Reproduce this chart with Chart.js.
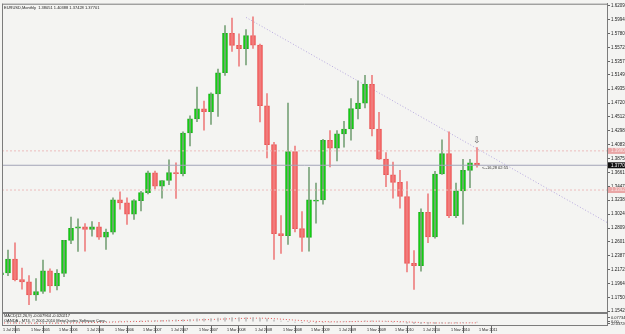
<!DOCTYPE html>
<html>
<head>
<meta charset="utf-8">
<script src="https://cdn.jsdelivr.net/npm/chart.js@4.4.1/dist/chart.umd.min.js"></script>
<style>
  html, body { margin: 0; padding: 0; background: #f4f4f2; }
  canvas { display: block; }
</style>
</head>
<body>
<canvas id="chart" width="625" height="334"></canvas>
<script>
// ---------- DATA ----------
const months = [
  "Jul 2005", "Aug 2005", "Sep 2005", "Oct 2005", "Nov 2005", "Dec 2005",
  "Jan 2006", "Feb 2006", "Mar 2006", "Apr 2006", "May 2006", "Jun 2006",
  "Jul 2006", "Aug 2006", "Sep 2006", "Oct 2006", "Nov 2006", "Dec 2006",
  "Jan 2007", "Feb 2007", "Mar 2007", "Apr 2007", "May 2007", "Jun 2007",
  "Jul 2007", "Aug 2007", "Sep 2007", "Oct 2007", "Nov 2007", "Dec 2007",
  "Jan 2008", "Feb 2008", "Mar 2008", "Apr 2008", "May 2008", "Jun 2008",
  "Jul 2008", "Aug 2008", "Sep 2008", "Oct 2008", "Nov 2008", "Dec 2008",
  "Jan 2009", "Feb 2009", "Mar 2009", "Apr 2009", "May 2009", "Jun 2009",
  "Jul 2009", "Aug 2009", "Sep 2009", "Oct 2009", "Nov 2009", "Dec 2009",
  "Jan 2010", "Feb 2010", "Mar 2010", "Apr 2010", "May 2010", "Jun 2010",
  "Jul 2010", "Aug 2010", "Sep 2010", "Oct 2010", "Nov 2010", "Dec 2010",
  "Jan 2011", "Feb 2011", "Mar 2011",
];

const openP = [
  1.2099, 1.2125, 1.2337, 1.2023, 1.1989, 1.1791,
  1.1842, 1.2156, 1.1925, 1.2118, 1.2623, 1.2808,
  1.2830, 1.2790, 1.2830, 1.2673, 1.2749, 1.3243,
  1.3196, 1.3024, 1.3230, 1.3353, 1.3654, 1.3450,
  1.3537, 1.3660, 1.3641, 1.4263, 1.4479, 1.4632,
  1.4590, 1.4860, 1.5184, 1.5786, 1.5602, 1.5550,
  1.5753, 1.5607, 1.4680, 1.4085, 1.2727, 1.2693,
  1.3978, 1.2802, 1.2668, 1.3220, 1.3240, 1.4152,
  1.4031, 1.4249, 1.4324, 1.4635, 1.4720, 1.5006,
  1.4324, 1.3865, 1.3626, 1.3508, 1.3293, 1.2272,
  1.2236, 1.3050, 1.2677, 1.3637, 1.3947, 1.3001,
  1.3378, 1.3692, 1.38051,
];

const highP = [
  1.2264, 1.2475, 1.2586, 1.2199, 1.2083, 1.2040,
  1.2323, 1.2188, 1.2176, 1.2625, 1.2979, 1.2950,
  1.2880, 1.2911, 1.2900, 1.2794, 1.3271, 1.3366,
  1.3271, 1.3246, 1.3372, 1.3681, 1.3682, 1.3542,
  1.3852, 1.3809, 1.4282, 1.4527, 1.4966, 1.4750,
  1.4878, 1.5241, 1.5904, 1.6018, 1.5777, 1.5844,
  1.6038, 1.5622, 1.4866, 1.4120, 1.3000, 1.4719,
  1.4065, 1.3063, 1.3737, 1.3497, 1.4166, 1.4300,
  1.4301, 1.4442, 1.4788, 1.5062, 1.5145, 1.5143,
  1.4579, 1.3966, 1.3819, 1.3692, 1.3520, 1.2466,
  1.3103, 1.3334, 1.3677, 1.4158, 1.4283, 1.3500,
  1.3862, 1.3862, 1.40388,
];

const lowP = [
  1.1867, 1.2084, 1.2005, 1.1878, 1.1640, 1.1707,
  1.1811, 1.1828, 1.1864, 1.2067, 1.2573, 1.2455,
  1.2456, 1.2686, 1.2637, 1.2483, 1.2719, 1.3098,
  1.2866, 1.2942, 1.3071, 1.3331, 1.3410, 1.3269,
  1.3475, 1.3262, 1.3607, 1.4066, 1.4438, 1.4306,
  1.4396, 1.4516, 1.5143, 1.5510, 1.5284, 1.5303,
  1.5555, 1.4432, 1.3882, 1.2330, 1.2424, 1.2559,
  1.2750, 1.2455, 1.2456, 1.2886, 1.3174, 1.3745,
  1.3836, 1.4048, 1.4155, 1.4480, 1.4645, 1.4218,
  1.3858, 1.3443, 1.3266, 1.3114, 1.2140, 1.1875,
  1.2152, 1.2587, 1.2658, 1.3630, 1.2969, 1.2971,
  1.2871, 1.3427, 1.37428,
];

const closeP = [
  1.2125, 1.2337, 1.2023, 1.1989, 1.1791, 1.1842,
  1.2156, 1.1925, 1.2118, 1.2623, 1.2808, 1.2830,
  1.2790, 1.2830, 1.2673, 1.2749, 1.3243, 1.3196,
  1.3024, 1.3230, 1.3353, 1.3654, 1.3450, 1.3537,
  1.3660, 1.3641, 1.4263, 1.4479, 1.4632, 1.4590,
  1.4860, 1.5184, 1.5786, 1.5602, 1.5550, 1.5753,
  1.5607, 1.4680, 1.4085, 1.2727, 1.2693, 1.3978,
  1.2802, 1.2668, 1.3244, 1.3240, 1.4152, 1.4031,
  1.4249, 1.4324, 1.4635, 1.4720, 1.5006, 1.4324,
  1.3865, 1.3626, 1.3508, 1.3293, 1.2272, 1.2236,
  1.3050, 1.2677, 1.3637, 1.3947, 1.3001, 1.3378,
  1.3692, 1.3806, 1.37701,
];

// MACD(12,26,9): main histogram and signal line (rough reading)
const macdMain = [
  -0.028, -0.026, -0.027, -0.028, -0.030, -0.030,
  -0.027, -0.026, -0.024, -0.018, -0.012, -0.008,
  -0.005, -0.002, 0.001, 0.003, 0.008, 0.011,
  0.012, 0.014, 0.017, 0.022, 0.024, 0.027,
  0.031, 0.033, 0.039, 0.046, 0.052, 0.056,
  0.060, 0.066, 0.073, 0.077, 0.077, 0.077,
  0.076, 0.067, 0.053, 0.029, 0.010, 0.005,
  -0.006, -0.016, -0.019, -0.020, -0.012, -0.006,
  -0.001, 0.004, 0.008, 0.013, 0.019, 0.017,
  0.010, 0.002, -0.004, -0.010, -0.024, -0.034,
  -0.035, -0.039, -0.034, -0.026, -0.025, -0.021,
  -0.015, -0.010, -0.008,
];

const macdSignal = [
  -0.022, -0.023, -0.024, -0.025, -0.026, -0.027,
  -0.027, -0.027, -0.026, -0.025, -0.022, -0.020,
  -0.017, -0.014, -0.011, -0.008, -0.005, -0.002,
  0.001, 0.004, 0.006, 0.009, 0.012, 0.015,
  0.018, 0.021, 0.024, 0.028, 0.033, 0.037,
  0.041, 0.046, 0.051, 0.056, 0.060, 0.063,
  0.066, 0.066, 0.064, 0.057, 0.048, 0.039,
  0.030, 0.021, 0.013, 0.006, 0.003, 0.000,
  -0.001, 0.000, 0.002, 0.004, 0.007, 0.009,
  0.009, 0.008, 0.006, 0.002, -0.003, -0.009,
  -0.014, -0.019, -0.022, -0.023, -0.023, -0.023,
  -0.021, -0.020, -0.020,
];

// tick labels
const xTickLabels = [
  "1 Jul 2005", "1 Nov 2005", "1 Mar 2006", "1 Jul 2006", "1 Nov 2006",
  "1 Mar 2007", "1 Jul 2007", "1 Nov 2007", "1 Mar 2008", "1 Jul 2008",
  "1 Nov 2008", "1 Mar 2009", "1 Jul 2009", "1 Nov 2009", "1 Mar 2010",
  "1 Jul 2010", "1 Nov 2010", "1 Mar 2011",
];
const priceTicks = [
  1.62090, 1.59949, 1.57808, 1.55720, 1.53579, 1.51499, 1.49350, 1.47209,
  1.45120, 1.42980, 1.40839, 1.38750, 1.36610, 1.34470, 1.32380, 1.30240,
  1.28099, 1.26010, 1.23870, 1.21720, 1.19640, 1.17500, 1.15420,
];
const macdTicks = [0.07734, 0, -0.0372];
const macdTickLabels = ["0.07734", "0.00", "-0.03720"];

// lines drawn on the chart
const bidLevel = 1.37701;
const userLevels = [1.3990, 1.3392];
const userLevelLabels = ["1.39900", "1.33920"];
const trendX = [35, 86.6];
const trendY = [1.6030, 1.2895];

const titleText = "EURUSD,Monthly  1.38051 1.40388 1.37428 1.37701";
const macdText = "MACD(12,26,9) -0.007964 -0.020217";
const brokerText = "OANDA - MT4, \u00a9 2001-2010 MetaQuotes Software Corp.";
const timerText = "<--16,28 02:55";

// ---------- HELPERS ----------
const xMin = 1 / 7;
const xMax = xMin + 605 / 7;
const xTickIndex = xTickLabels.map((l) => months.indexOf(l.slice(2)));

const BULL_FILL = "#0ad40a";
const BULL_EDGE = "#19b019";
const BULL_WICK = "#7aa47a";
const BEAR_FILL = "#f66565";
const BEAR_EDGE = "#e85353";
const BEAR_WICK = "#ef8080";
const FONT = "Liberation Sans";

function isBull(i) {
  return closeP[i] >= openP[i];
}

function levelLine(value) {
  return [
    { x: xMin, y: value },
    { x: xMax, y: value },
  ];
}

// ---------- PLUGIN: background, frame, texts ----------
const mtDecor = {
  id: "mtDecor",
  beforeDraw(chart) {
    const ctx = chart.ctx;
    ctx.save();
    ctx.fillStyle = "#f4f4f2";
    ctx.fillRect(0, 0, chart.width, chart.height);
    ctx.restore();
  },
  afterDraw(chart) {
    const ctx = chart.ctx;
    const a = chart.chartArea;
    const y = chart.scales.y;
    const x = chart.scales.x;
    ctx.save();

    // frame
    ctx.strokeStyle = "#7c7c7c";
    ctx.lineWidth = 1;
    ctx.beginPath();
    ctx.moveTo(a.left + 0.5, a.top);
    ctx.lineTo(a.left + 0.5, a.bottom);
    ctx.moveTo(a.left, a.top + 0.5);
    ctx.lineTo(a.right, a.top + 0.5);
    ctx.stroke();
    ctx.lineWidth = 2;
    ctx.beginPath();
    ctx.moveTo(a.left, y.bottom);
    ctx.lineTo(a.right, y.bottom);
    ctx.stroke();

    // texts top-left and in the MACD window
    ctx.fillStyle = "#1a1a1a";
    ctx.textBaseline = "top";
    ctx.textAlign = "left";
    ctx.font = "4px " + FONT;
    ctx.fillText(titleText, a.left + 2, a.top + 2);
    ctx.fillText(macdText, a.left + 2, y.bottom + 1);
    ctx.fillText(brokerText, a.left + 2, y.bottom + 6);

    // price boxes on the axis
    function box(value, text, fill, color) {
      const py = y.getPixelForValue(value);
      ctx.fillStyle = fill;
      ctx.fillRect(a.right + 1, py - 3, chart.width - a.right, 6);
      ctx.fillStyle = color;
      ctx.textBaseline = "middle";
      ctx.font = "4.5px " + FONT;
      ctx.fillText(text, a.right + 4, py);
    }
    userLevels.forEach((v, i) => box(v, userLevelLabels[i], "#e9a5a5", "#fbe6e6"));
    box(bidLevel, bidLevel.toFixed(5), "#111111", "#ffffff");

    // arrow above the last bar and time left
    const last = months.length - 1;
    const lx = x.getPixelForValue(last);
    ctx.fillStyle = "#666666";
    ctx.textAlign = "center";
    ctx.textBaseline = "bottom";
    ctx.font = "9px DejaVu Sans";
    ctx.fillText("\u21e9", lx, y.getPixelForValue(highP[last]) - 3);
    ctx.textAlign = "left";
    ctx.textBaseline = "middle";
    ctx.font = "4px " + FONT;
    ctx.fillStyle = "#333333";
    ctx.fillText(timerText, lx + 5, y.getPixelForValue(closeP[last]) + 3);

    ctx.restore();
  },
};

// ---------- CHART ----------
const ctx = document.getElementById("chart").getContext("2d");

new Chart(ctx, {
  type: "bar",
  data: {
    datasets: [
      {
        type: "line",
        label: "bid",
        data: levelLine(bidLevel),
        borderColor: "#a2a4b8",
        borderWidth: 1,
        pointRadius: 0,
        yAxisID: "y",
        clip: 0,
      },
      ...userLevels.map((v) => ({
        type: "line",
        label: "level",
        data: levelLine(v),
        borderColor: "#ecbcbc",
        borderWidth: 1,
        borderDash: [2, 2],
        pointRadius: 0,
        yAxisID: "y",
        clip: 0,
      })),
      {
        label: "wicks",
        data: months.map((m, i) => ({ x: i, y: [lowP[i], highP[i]] })),
        backgroundColor: (c) => (isBull(c.dataIndex) ? BULL_WICK : BEAR_WICK),
        barThickness: 1,
        grouped: false,
        yAxisID: "y",
        clip: 0,
      },
      {
        label: "bodies",
        data: months.map((m, i) => ({ x: i, y: [openP[i], closeP[i]] })),
        backgroundColor: (c) => (isBull(c.dataIndex) ? BULL_FILL : BEAR_FILL),
        borderColor: (c) => (isBull(c.dataIndex) ? BULL_EDGE : BEAR_EDGE),
        borderWidth: 1,
        borderSkipped: false,
        barThickness: 5,
        minBarLength: 1,
        grouped: false,
        yAxisID: "y",
        clip: 0,
      },
      {
        type: "line",
        label: "trend",
        data: trendX.map((v, i) => ({ x: v, y: trendY[i] })),
        borderColor: "#b6a8de",
        borderWidth: 1,
        borderDash: [1, 2],
        pointRadius: 0,
        yAxisID: "y",
        clip: 0,
      },
      {
        label: "MACD",
        data: months.map((m, i) => ({ x: i, y: macdMain[i] })),
        backgroundColor: "#bdbdbd",
        barThickness: 1,
        grouped: false,
        yAxisID: "y2",
        clip: 0,
      },
      {
        type: "line",
        label: "Signal",
        data: months.map((m, i) => ({ x: i, y: macdSignal[i] })),
        borderColor: "#e25a5a",
        borderWidth: 1,
        borderDash: [1, 2],
        pointRadius: 0,
        tension: 0,
        yAxisID: "y2",
        clip: 0,
      },
    ],
  },
  options: {
    responsive: false,
    animation: false,
    devicePixelRatio: 1,
    layout: { padding: { left: 2, top: 2, right: 0, bottom: 0 } },
    plugins: {
      legend: { display: false },
      tooltip: { enabled: false },
    },
    scales: {
      x: {
        type: "linear",
        min: xMin,
        max: xMax,
        offset: false,
        afterBuildTicks: (s) => {
          s.ticks = xTickIndex.map((v) => ({ value: v }));
        },
        afterFit: (s) => {
          s.height = 9;
        },
        ticks: {
          autoSkip: false,
          maxRotation: 0,
          align: "start",
          padding: -5,
          labelOffset: 2,
          color: "#222222",
          font: { family: FONT, size: 3.7 },
          callback: (v) => xTickLabels[xTickIndex.indexOf(v)] ?? "",
        },
        grid: { drawOnChartArea: false, tickLength: 8, color: "#666666" },
        border: { display: true, color: "#7c7c7c" },
      },
      y: {
        position: "right",
        stack: "pane",
        stackWeight: 311,
        weight: 0,
        min: 1.1512,
        max: 1.6239,
        afterBuildTicks: (s) => {
          s.ticks = priceTicks.map((v) => ({ value: v }));
        },
        afterFit: (s) => {
          s.width = 18;
        },
        ticks: {
          autoSkip: false,
          padding: 1,
          color: "#222222",
          font: { family: FONT, size: 4.5 },
          callback: (v) => v.toFixed(5),
        },
        grid: { drawOnChartArea: false, tickLength: 3, color: "#666666" },
        border: { display: true, color: "#7c7c7c" },
      },
      y2: {
        position: "right",
        stack: "pane",
        stackWeight: 12,
        weight: 1,
        min: -0.06,
        max: 0.16,
        afterBuildTicks: (s) => {
          s.ticks = macdTicks.map((v) => ({ value: v }));
        },
        afterFit: (s) => {
          s.width = 18;
        },
        ticks: {
          autoSkip: false,
          padding: 1,
          color: "#222222",
          font: { family: FONT, size: 4 },
          callback: (v) => macdTickLabels[macdTicks.indexOf(v)] ?? "",
        },
        grid: { drawOnChartArea: false, tickLength: 3, color: "#666666" },
        border: { display: true, color: "#7c7c7c" },
      },
    },
  },
  plugins: [mtDecor],
});
</script>
</body>
</html>
